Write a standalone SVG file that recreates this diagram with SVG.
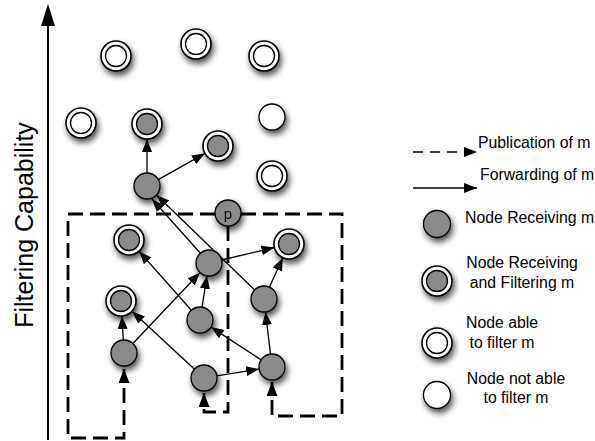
<svg xmlns="http://www.w3.org/2000/svg" width="595" height="441" viewBox="0 0 595 441">
<style>
  text { font-family: "Liberation Sans", Arial, sans-serif; fill: #000; }
  .lg { font-size: 15.8px; }
  .g { fill: #8a8a8a; stroke: #000; stroke-width: 1.3; }
  .w { fill: #fff; stroke: #000; stroke-width: 1.3; }
  .ring { fill: #fff; stroke: #000; stroke-width: 1.6; }
  .fw { fill: none; stroke: #000; stroke-width: 1.3; marker-end: url(#arr); }
  .pub { fill: none; stroke: #000; stroke-width: 2.8; stroke-dasharray: 15 7; marker-end: url(#arrBig); }
</style>
<defs>
  <marker id="arr" markerUnits="userSpaceOnUse" markerWidth="14" markerHeight="11" refX="13" refY="5" orient="auto">
    <path d="M0,0 L13,5 L0,10 z" fill="#000"/>
  </marker>
  <marker id="arrBig" markerUnits="userSpaceOnUse" markerWidth="15" markerHeight="12" refX="14" refY="5.5" orient="auto">
    <path d="M0,0 L14,5.5 L0,11 z" fill="#000"/>
  </marker>
  <filter id="sh" x="-60%" y="-60%" width="220%" height="220%">
    <feGaussianBlur in="SourceAlpha" stdDeviation="3"/>
    <feOffset dx="2" dy="4" result="b"/>
    <feComponentTransfer><feFuncA type="linear" slope="0.7"/></feComponentTransfer>
    <feMerge><feMergeNode/><feMergeNode in="SourceGraphic"/></feMerge>
  </filter>
</defs>

<!-- Axis -->
<g id="axis">
  <line x1="48" y1="440" x2="48" y2="24" stroke="#000" stroke-width="2"/>
  <polygon points="48,4 41,26 55,26" fill="#000"/>
  <text transform="translate(33,225) rotate(-90)" text-anchor="middle" font-size="25">Filtering Capability</text>
</g>

<!-- Connectors -->
<g id="connectors">
  <!-- publication (dashed) -->
  <path class="pub" d="M215,214 H68 V438 H124 V369"/>
  <path class="pub" d="M228,226 V412 H204 V393"/>
  <path class="pub" d="M241,214 H342 V416 H272 V382"/>
  <!-- forwarding (solid) -->
  <line class="fw" x1="147" y1="173" x2="147" y2="139"/>
  <line class="fw" x1="158.3" y1="179.6" x2="204.9" y2="153.4"/>
  <line class="fw" x1="200.4" y1="253.3" x2="152" y2="199"/>
  <line class="fw" x1="254.7" y1="290" x2="156.5" y2="195"/>
  <line class="fw" x1="221.6" y1="260" x2="274.4" y2="247.5"/>
  <line class="fw" x1="269.4" y1="287.2" x2="282.8" y2="257.7"/>
  <line class="fw" x1="202" y1="307.2" x2="207" y2="275.8"/>
  <line class="fw" x1="191.4" y1="310.3" x2="139" y2="251.2"/>
  <line class="fw" x1="132.9" y1="343.5" x2="200.1" y2="272.5"/>
  <line class="fw" x1="123.3" y1="340" x2="121.9" y2="316"/>
  <line class="fw" x1="194.5" y1="369.2" x2="132" y2="311.2"/>
  <line class="fw" x1="216.8" y1="375.9" x2="259.2" y2="369.1"/>
  <line class="fw" x1="261.1" y1="359.9" x2="210.9" y2="327.1"/>
  <line class="fw" x1="270.5" y1="354.1" x2="265.5" y2="311.9"/>
</g>

<!-- Nodes -->
<g id="nA" filter="url(#sh)"><circle class="ring" cx="116" cy="56" r="15"/><circle class="w" cx="116" cy="56" r="10.5"/></g>
<g id="nB" filter="url(#sh)"><circle class="ring" cx="196" cy="44" r="15"/><circle class="w" cx="196" cy="44" r="10.5"/></g>
<g id="nC" filter="url(#sh)"><circle class="ring" cx="264" cy="56" r="15"/><circle class="w" cx="264" cy="56" r="10.5"/></g>
<g id="nD" filter="url(#sh)"><circle class="ring" cx="81" cy="123" r="15"/><circle class="w" cx="81" cy="123" r="10.5"/></g>
<g id="nE" filter="url(#sh)"><circle class="ring" cx="147" cy="124" r="15"/><circle class="g" cx="147" cy="124" r="10.5"/></g>
<g id="nF" filter="url(#sh)"><circle class="w" cx="272" cy="117" r="13"/></g>
<g id="nG" filter="url(#sh)"><circle class="ring" cx="218" cy="146" r="15"/><circle class="g" cx="218" cy="146" r="10.5"/></g>
<g id="nH" filter="url(#sh)"><circle class="ring" cx="272" cy="176" r="15"/><circle class="w" cx="272" cy="176" r="10.5"/></g>
<g id="nI" filter="url(#sh)"><circle class="g" cx="147" cy="186" r="13"/></g>
<g id="nP" filter="url(#sh)"><circle class="g" cx="228" cy="213" r="13"/><text x="228" y="219" text-anchor="middle" font-size="15">p</text></g>
<g id="nJ" filter="url(#sh)"><circle class="ring" cx="129" cy="240" r="15"/><circle class="g" cx="129" cy="240" r="10.5"/></g>
<g id="nK" filter="url(#sh)"><circle class="g" cx="209" cy="263" r="13"/></g>
<g id="nL" filter="url(#sh)"><circle class="ring" cx="289" cy="244" r="15"/><circle class="g" cx="289" cy="244" r="10.5"/></g>
<g id="nM" filter="url(#sh)"><circle class="ring" cx="121" cy="301" r="15"/><circle class="g" cx="121" cy="301" r="10.5"/></g>
<g id="nN" filter="url(#sh)"><circle class="g" cx="264" cy="299" r="13"/></g>
<g id="nO" filter="url(#sh)"><circle class="g" cx="200" cy="320" r="13"/></g>
<g id="nQ" filter="url(#sh)"><circle class="g" cx="124" cy="353" r="13"/></g>
<g id="nR" filter="url(#sh)"><circle class="g" cx="204" cy="378" r="13"/></g>
<g id="nS" filter="url(#sh)"><circle class="g" cx="272" cy="367" r="13"/></g>

<!-- Legend -->
<g id="legend">
  <g id="lg-pub">
    <line x1="413" y1="152" x2="477" y2="152" stroke="#000" stroke-width="1.6" stroke-dasharray="10 7" marker-end="url(#arr)"/>
    <text class="lg" x="478" y="148">Publication of m</text>
  </g>
  <g id="lg-fwd">
    <line x1="413" y1="188" x2="477" y2="188" stroke="#000" stroke-width="1.6" marker-end="url(#arr)"/>
    <text class="lg" x="480" y="180">Forwarding of m</text>
  </g>
  <g id="lg-recv">
    <g filter="url(#sh)"><circle class="g" cx="437" cy="224" r="13.5"/></g>
    <text class="lg" x="465" y="223">Node Receiving m</text>
  </g>
  <g id="lg-recvfilt">
    <g filter="url(#sh)"><circle class="ring" cx="437" cy="281" r="15"/><circle class="g" cx="437" cy="281" r="10.5"/></g>
    <text class="lg" x="522" y="268" text-anchor="middle">Node Receiving</text>
    <text class="lg" x="522" y="288" text-anchor="middle">and Filtering m</text>
  </g>
  <g id="lg-able">
    <g filter="url(#sh)"><circle class="ring" cx="437" cy="343" r="15"/><circle class="w" cx="437" cy="343" r="10.5"/></g>
    <text class="lg" x="502" y="328" text-anchor="middle">Node able</text>
    <text class="lg" x="502" y="348" text-anchor="middle">to filter m</text>
  </g>
  <g id="lg-notable">
    <g filter="url(#sh)"><circle class="w" cx="437" cy="395" r="13.5"/></g>
    <text class="lg" x="516" y="384" text-anchor="middle">Node not able</text>
    <text class="lg" x="516" y="403" text-anchor="middle">to filter m</text>
  </g>
</g>
</svg>
